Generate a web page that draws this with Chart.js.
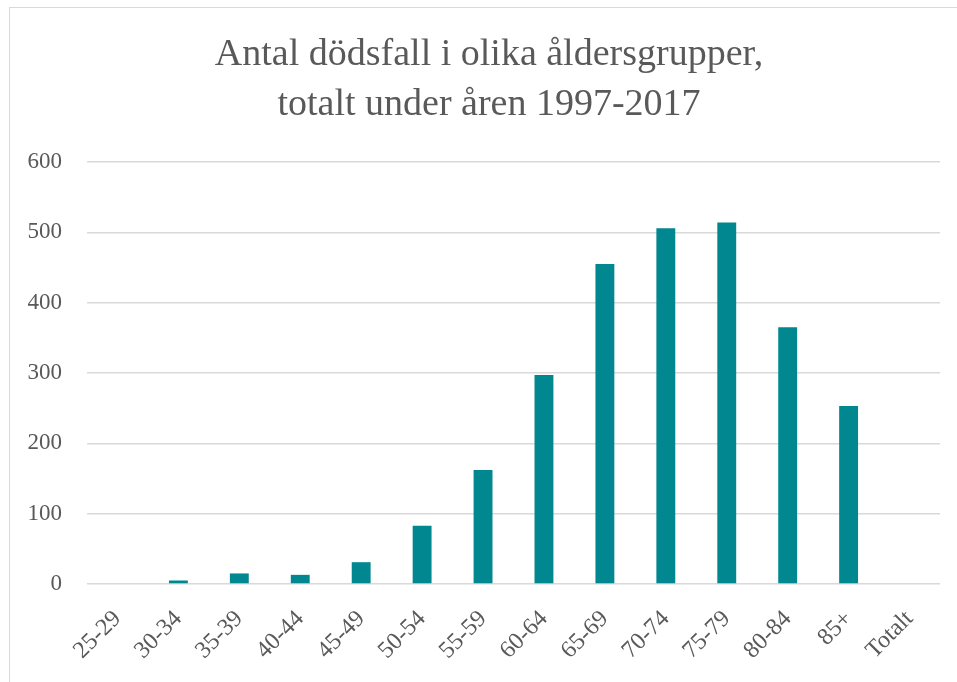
<!DOCTYPE html>
<html>
<head>
<meta charset="utf-8">
<script src="https://cdn.jsdelivr.net/npm/chart.js@4"></script>
<style>
    body { margin: 0; background: #fff; }
    #frame {
        position: absolute; left: 9px; top: 7px;
        width: 1000px; height: 700px;
        border: 1px solid #d9d9d9;
    }
    #wrap { position: absolute; left: 0; top: 0; width: 957px; height: 682px; }
</style>
</head>
<body>
<div id="frame"></div>
<div id="wrap"><canvas id="chart"></canvas></div>
<script>
const ageGroups = ["25-29", "30-34", "35-39", "40-44", "45-49", "50-54", "55-59",
    "60-64", "65-69", "70-74", "75-79", "80-84", "85+", "Totalt"];
const deaths = [0, 5, 15, 13, 31, 83, 162, 297, 455, 506, 514, 365, 253, null];
const yTicks = [0, 100, 200, 300, 400, 500, 600];

const textColor = "#595959";
const serif = "'Liberation Serif', 'DejaVu Serif', serif";

// nudge the title box so its centre sits where the original one does
const titleShift = {
    id: "titleShift",
    afterLayout(chart) {
        if (chart.titleBlock) chart.titleBlock.left = 38;
    }
};

new Chart(document.getElementById("chart"), {
    type: "bar",
    data: {
        labels: ageGroups,
        datasets: [{
            data: deaths,
            backgroundColor: "#00878f",
            categoryPercentage: 1,
            barPercentage: 0.31
        }]
    },
    plugins: [titleShift],
    options: {
        responsive: true,
        maintainAspectRatio: false,
        animation: false,
        layout: { padding: { left: 0, right: 17, top: 0, bottom: 0 } },
        plugins: {
            legend: { display: false },
            tooltip: { enabled: false },
            title: {
                display: true,
                text: ["Antal dödsfall i olika åldersgrupper,", "totalt under åren 1997-2017"],
                color: textColor,
                font: { family: serif, size: 38, weight: "normal", lineHeight: 1.316 },
                padding: { top: 30, bottom: 32 }
            }
        },
        scales: {
            x: {
                grid: { display: false },
                border: { display: false },
                ticks: {
                    color: textColor,
                    font: { family: serif, size: 24 },
                    minRotation: 45,
                    maxRotation: 45,
                    padding: 13
                },
                afterFit: (scale) => { scale.height = 98; }
            },
            y: {
                min: 0,
                max: 600,
                afterBuildTicks: (scale) => { scale.ticks = yTicks.map(v => ({ value: v })); },
                grid: { color: "#d9d9d9", lineWidth: 1.5, drawTicks: false },
                border: { display: false },
                ticks: {
                    color: textColor,
                    font: { family: serif, size: 23 },
                    padding: 25
                },
                afterFit: (scale) => { scale.width = 87; }
            }
        }
    }
});
</script>
</body>
</html>
